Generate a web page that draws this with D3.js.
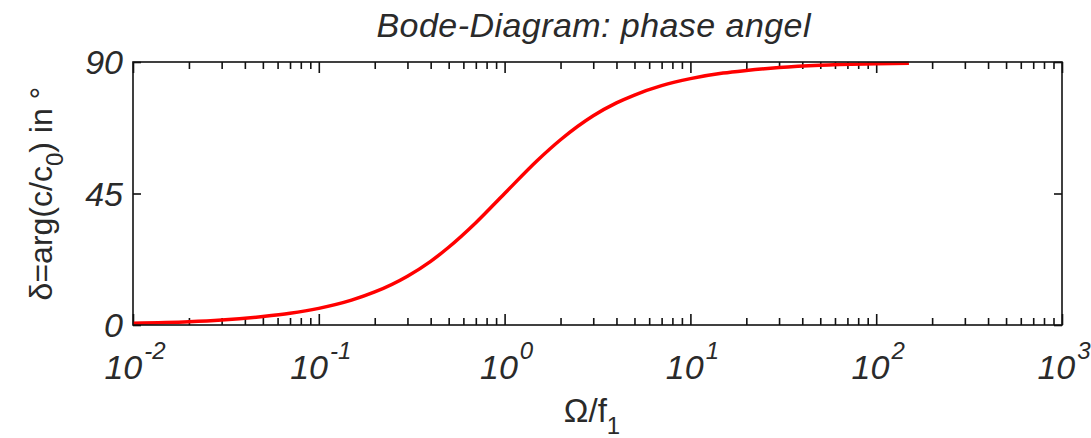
<!DOCTYPE html>
<html>
<head>
<meta charset="utf-8">
<script src="https://cdn.jsdelivr.net/npm/d3@7"></script>
<style>
  body { margin: 0; background: #fff; }
  text { font-family: "Liberation Sans", Arial, sans-serif; fill: #2a2a2a; }
</style>
</head>
<body>
<div id="chart"></div>
<script>
// curve
var omega = [0.01, 0.02, 0.03, 0.05, 0.07, 0.1, 0.15, 0.2, 0.3, 0.4, 0.5, 0.7, 1, 1.5, 2, 3, 4, 5, 7, 10, 15, 20, 30, 50, 100, 150]
var phase = [0.6, 1.1, 1.7, 2.9, 4.0, 5.7, 8.5, 11.3, 16.7, 21.8, 26.6, 35.0, 45.0, 56.3, 63.4, 71.6, 76.0, 78.7, 81.9, 84.3, 86.2, 87.1, 88.1, 88.9, 89.4, 89.6]
var xExps = [-2, -1, 0, 1, 2, 3]
var yTicks = [0, 45, 90]

var svgW = 1091, svgH = 438
var margins = {left: 133, right: 29, top: 62, bottom: 113}
var chartW = svgW - margins.left - margins.right
var chartH = svgH - margins.top - margins.bottom

var svg = d3.select('#chart').append('svg')
    .attr('width', svgW)
    .attr('height', svgH)
var chart = svg.append('g')
    .attr('transform', `translate(${margins.left},${margins.top})`)

var xscale = d3.scaleLog().domain([0.01, 1000]).range([0, chartW])
var yscale = d3.scaleLinear().domain([0, 90]).range([chartH, 0])

var majors = xExps.map(e => Math.pow(10, e))
var minors = xscale.ticks().filter(t => !majors.some(m => Math.abs(m - t) < 1e-9))

// ticks, all pointing inward
function tickAxis(axis, vals, len) {
    return axis(xscale).tickValues(vals).tickSizeInner(-len).tickSizeOuter(0).tickFormat('')
}
var axes = [
    [d3.axisBottom, chartH, minors, 7],
    [d3.axisBottom, chartH, majors, 11],
    [d3.axisTop, 0, minors, 7],
    [d3.axisTop, 0, majors, 11]
]
axes.forEach(function(a) {
    chart.append('g')
        .attr('transform', `translate(0,${a[1]})`)
        .call(tickAxis(a[0], a[2], a[3]))
})
chart.append('g')
    .call(d3.axisLeft(yscale).tickValues(yTicks).tickSizeInner(-8).tickSizeOuter(0).tickFormat(''))
chart.append('g')
    .attr('transform', `translate(${chartW},0)`)
    .call(d3.axisRight(yscale).tickValues(yTicks).tickSizeInner(-8).tickSizeOuter(0).tickFormat(''))
chart.selectAll('.tick line').attr('stroke', '#111').attr('stroke-width', 1.6)
chart.selectAll('.domain').remove()

// curve
var line = d3.line()
    .x((d, i) => xscale(omega[i]))
    .y(d => yscale(d))
    .curve(d3.curveMonotoneX)
chart.append('path')
    .datum(phase)
    .attr('d', line)
    .attr('fill', 'none')
    .attr('stroke', '#ff0000')
    .attr('stroke-width', 3.5)

// frame
chart.append('rect')
    .attr('width', chartW)
    .attr('height', chartH)
    .attr('fill', 'none')
    .attr('stroke', '#111')
    .attr('stroke-width', 1.6)

// y tick labels
chart.selectAll('.ylab').data(yTicks).enter().append('text')
    .attr('x', -10)
    .attr('y', d => yscale(d))
    .attr('dy', '0.36em')
    .attr('text-anchor', 'end')
    .attr('font-size', 34)
    .attr('font-style', 'italic')
    .text(d => d)

// x tick labels 10^n
var xl = chart.selectAll('.xlab').data(xExps).enter().append('text')
    .attr('x', d => xscale(Math.pow(10, d)) + 2)
    .attr('y', chartH + 54)
    .attr('text-anchor', 'middle')
    .attr('font-style', 'italic')
xl.append('tspan').attr('font-size', 34).text('10')
xl.append('tspan').attr('font-size', 24).attr('dy', -20).attr('dx', 2).text(d => d)

// title
svg.append('text')
    .attr('x', margins.left + chartW / 2 - 4)
    .attr('y', 37)
    .attr('text-anchor', 'middle')
    .attr('font-size', 34)
    .attr('font-style', 'italic')
    .attr('textLength', 434)
    .text('Bode-Diagram: phase angel')

// x label
var xt = svg.append('text')
    .attr('x', 592)
    .attr('y', 422)
    .attr('text-anchor', 'middle')
    .attr('font-size', 33)
xt.append('tspan').text('\u03a9/f')
xt.append('tspan').attr('font-size', 24).attr('dy', 12).text('1')

// y label
var yt = svg.append('text')
    .attr('transform', `translate(52,${margins.top + chartH / 2}) rotate(-90)`)
    .attr('text-anchor', 'middle')
    .attr('font-size', 32)
yt.append('tspan').text('\u03b4=arg(c/c')
yt.append('tspan').attr('font-size', 24).attr('dy', 11).text('0')
yt.append('tspan').attr('dy', -11).text(') in \u00b0')
</script>
</body>
</html>
